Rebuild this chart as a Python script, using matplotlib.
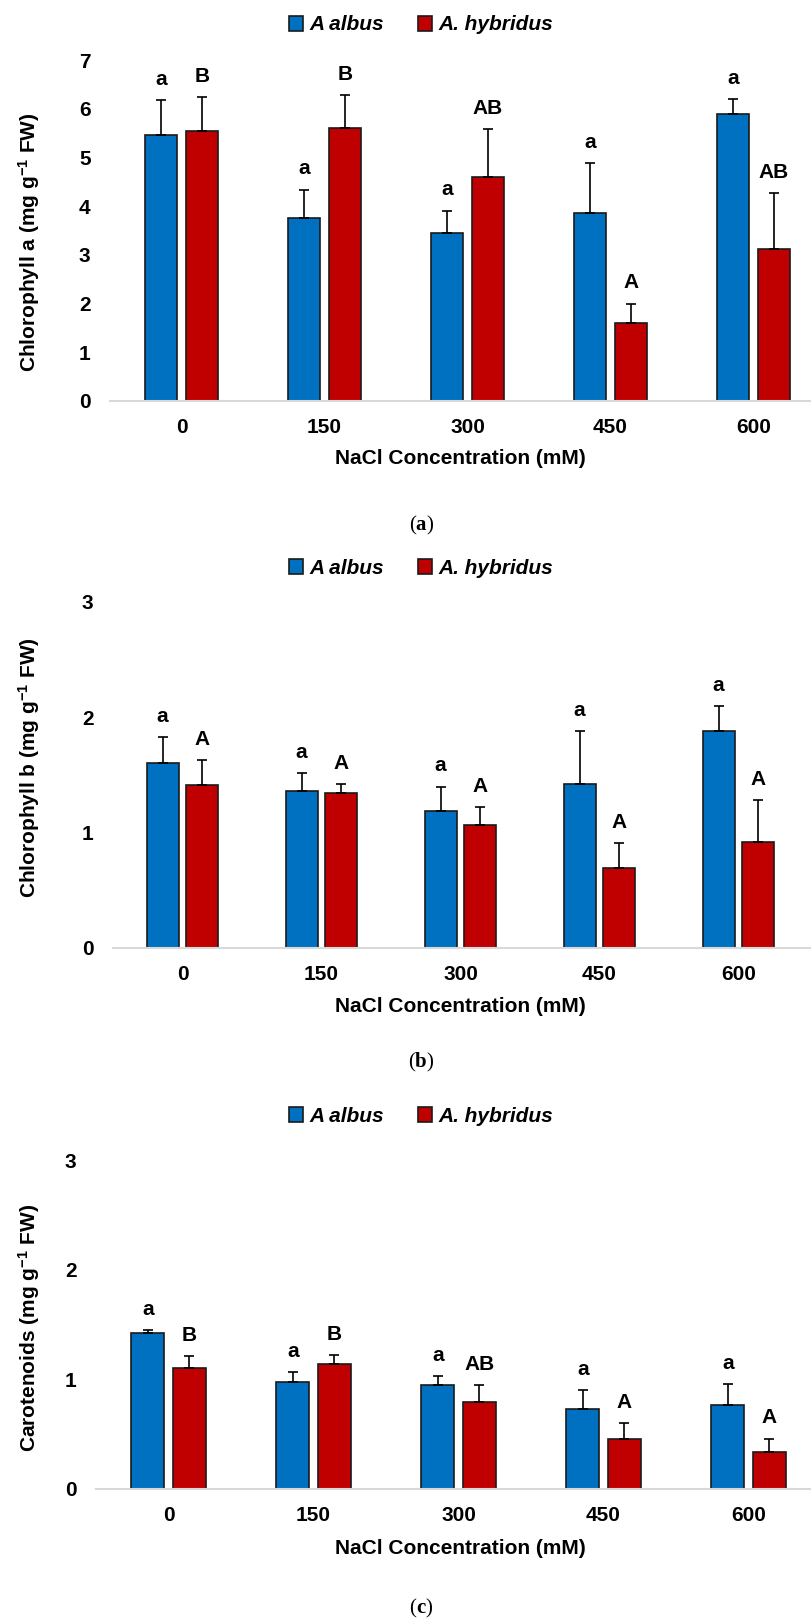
import matplotlib
matplotlib.use('Agg')
import matplotlib.pyplot as plt
from matplotlib.font_manager import FontProperties
from matplotlib.offsetbox import TextArea, HPacker, AnchoredOffsetbox
import numpy as np

# ---------------- data ----------------
categories = ['0', '150', '300', '450', '600']
series_names = ['A albus', 'A. hybridus']

chla_albus = [5.46, 3.76, 3.45, 3.86, 5.90]
chla_albus_err = [0.72, 0.58, 0.46, 1.03, 0.30]
chla_hyb = [5.54, 5.61, 4.60, 1.61, 3.13]
chla_hyb_err = [0.70, 0.67, 0.99, 0.39, 1.14]
chla_albus_letters = ['a', 'a', 'a', 'a', 'a']
chla_hyb_letters = ['B', 'B', 'AB', 'A', 'AB']

chlb_albus = [1.60, 1.36, 1.19, 1.42, 1.88]
chlb_albus_err = [0.23, 0.16, 0.21, 0.46, 0.22]
chlb_hyb = [1.41, 1.34, 1.07, 0.69, 0.92]
chlb_hyb_err = [0.22, 0.08, 0.15, 0.22, 0.36]
chlb_albus_letters = ['a', 'a', 'a', 'a', 'a']
chlb_hyb_letters = ['A', 'A', 'A', 'A', 'A']

car_albus = [1.42, 0.98, 0.95, 0.73, 0.77]
car_albus_err = [0.03, 0.09, 0.08, 0.17, 0.19]
car_hyb = [1.10, 1.14, 0.79, 0.46, 0.34]
car_hyb_err = [0.11, 0.08, 0.16, 0.14, 0.12]
car_albus_letters = ['a', 'a', 'a', 'a', 'a']
car_hyb_letters = ['B', 'B', 'AB', 'A', 'A']

ylabels = ['Chlorophyll a (mg g$^{-1}$ FW)',
           'Chlorophyll b (mg g$^{-1}$ FW)',
           'Carotenoids (mg g$^{-1}$ FW)']
xlabel = 'NaCl Concentration (mM)'
captions = ['a', 'b', 'c']

# ---------------- style ----------------
plt.rcParams['font.family'] = ['Liberation Sans', 'DejaVu Sans']
plt.rcParams['font.weight'] = 'bold'
plt.rcParams['mathtext.fontset'] = 'custom'
plt.rcParams['mathtext.rm'] = 'Liberation Sans:bold'
plt.rcParams['mathtext.bf'] = 'Liberation Sans:bold'
plt.rcParams['mathtext.default'] = 'bf'

BLUE = '#0070C0'
RED = '#C00000'
EDGE = '#1a1a1a'
AXIS = '#d9d9d9'
FS = 15

W, H = 811, 1620
fig = plt.figure(figsize=(W / 100, H / 100), dpi=100)


def fx(px):
    return px / W


def fy(py):
    return 1 - py / H


panels = [
    dict(a=chla_albus, ae=chla_albus_err, h=chla_hyb, he=chla_hyb_err,
         al=chla_albus_letters, hl=chla_hyb_letters, ymax=7,
         left=110, top=60, bottom=401, cat=143, leg=25, xl=458, cap=525, ylc=242),
    dict(a=chlb_albus, ae=chlb_albus_err, h=chlb_hyb, he=chlb_hyb_err,
         al=chlb_albus_letters, hl=chlb_hyb_letters, ymax=3,
         left=113, top=602, bottom=948, cat=139, leg=568, xl=1006, cap=1062, ylc=768),
    dict(a=car_albus, ae=car_albus_err, h=car_hyb, he=car_hyb_err,
         al=car_albus_letters, hl=car_hyb_letters, ymax=3,
         left=96, top=1160, bottom=1489, cat=145, leg=1116, xl=1548, cap=1608, ylc=1328),
]

bw = 0.23
off = 0.143
x = np.arange(len(categories))
zeros = np.zeros(len(categories))
legprop = FontProperties(family='Liberation Sans', weight='bold', style='italic', size=FS)

for k, p in enumerate(panels):
    ax = fig.add_axes([fx(p['left']), fy(p['bottom']),
                       (W - p['left']) / W, (p['bottom'] - p['top']) / H])
    ekw = dict(ecolor='black', elinewidth=1.2, capthick=1.2)
    b1 = ax.bar(x - off, p['a'], bw, color=BLUE, edgecolor=EDGE, linewidth=1.2,
                yerr=[zeros, p['ae']], capsize=3.3, error_kw=ekw, label=series_names[0])
    b2 = ax.bar(x + off, p['h'], bw, color=RED, edgecolor=EDGE, linewidth=1.2,
                yerr=[zeros, p['he']], capsize=3.3, error_kw=ekw, label=series_names[1])
    for i in range(len(categories)):
        ax.annotate(p['al'][i], (x[i] - off, p['a'][i] + p['ae'][i]), xytext=(0, 8),
                    textcoords='offset points', ha='center', va='bottom',
                    fontsize=FS, fontweight='bold')
        ax.annotate(p['hl'][i], (x[i] + off, p['h'][i] + p['he'][i]), xytext=(0, 8),
                    textcoords='offset points', ha='center', va='bottom',
                    fontsize=FS, fontweight='bold')
    xr = -0.5 + (W - p['left']) / p['cat']
    ax.set_xlim(-0.5, xr)
    ax.set_ylim(0, p['ymax'])
    ax.set_yticks(range(p['ymax'] + 1))
    ax.set_xticks(x, categories)
    ax.tick_params(axis='both', length=0, labelsize=FS)
    ax.tick_params(axis='y', pad=14)
    ax.tick_params(axis='x', pad=12)
    for s in ['top', 'right', 'left']:
        ax.spines[s].set_visible(False)
    ax.spines['bottom'].set_color(AXIS)
    ax.spines['bottom'].set_linewidth(1.5)
    ax.set_facecolor('none')

    fig.text(fx(29), fy(p['ylc']), ylabels[k], rotation=90, ha='center', va='center',
             fontsize=FS, fontweight='bold')
    fig.text(fx(460), fy(p['xl']), xlabel, ha='center', va='center',
             fontsize=FS, fontweight='bold')
    fig.legend(handles=[b1, b2], loc='center', bbox_to_anchor=(fx(421), fy(p['leg'])),
               ncol=2, frameon=False, prop=legprop, handlelength=0.7, handleheight=0.7,
               handletextpad=0.3, columnspacing=1.6, borderpad=0, borderaxespad=0)

    cap_box = HPacker(children=[
        TextArea('(', textprops=dict(family='Liberation Serif', fontweight='normal', fontsize=FS)),
        TextArea(captions[k], textprops=dict(family='Liberation Serif', fontweight='bold', fontsize=FS)),
        TextArea(')', textprops=dict(family='Liberation Serif', fontweight='normal', fontsize=FS)),
    ], pad=0, sep=0, align='baseline')
    anc = AnchoredOffsetbox(loc='center', child=cap_box, pad=0, frameon=False,
                            bbox_to_anchor=(fx(421), fy(p['cap'])),
                            bbox_transform=fig.transFigure, borderpad=0)
    fig.add_artist(anc)

fig.savefig('out.png', dpi=100)
